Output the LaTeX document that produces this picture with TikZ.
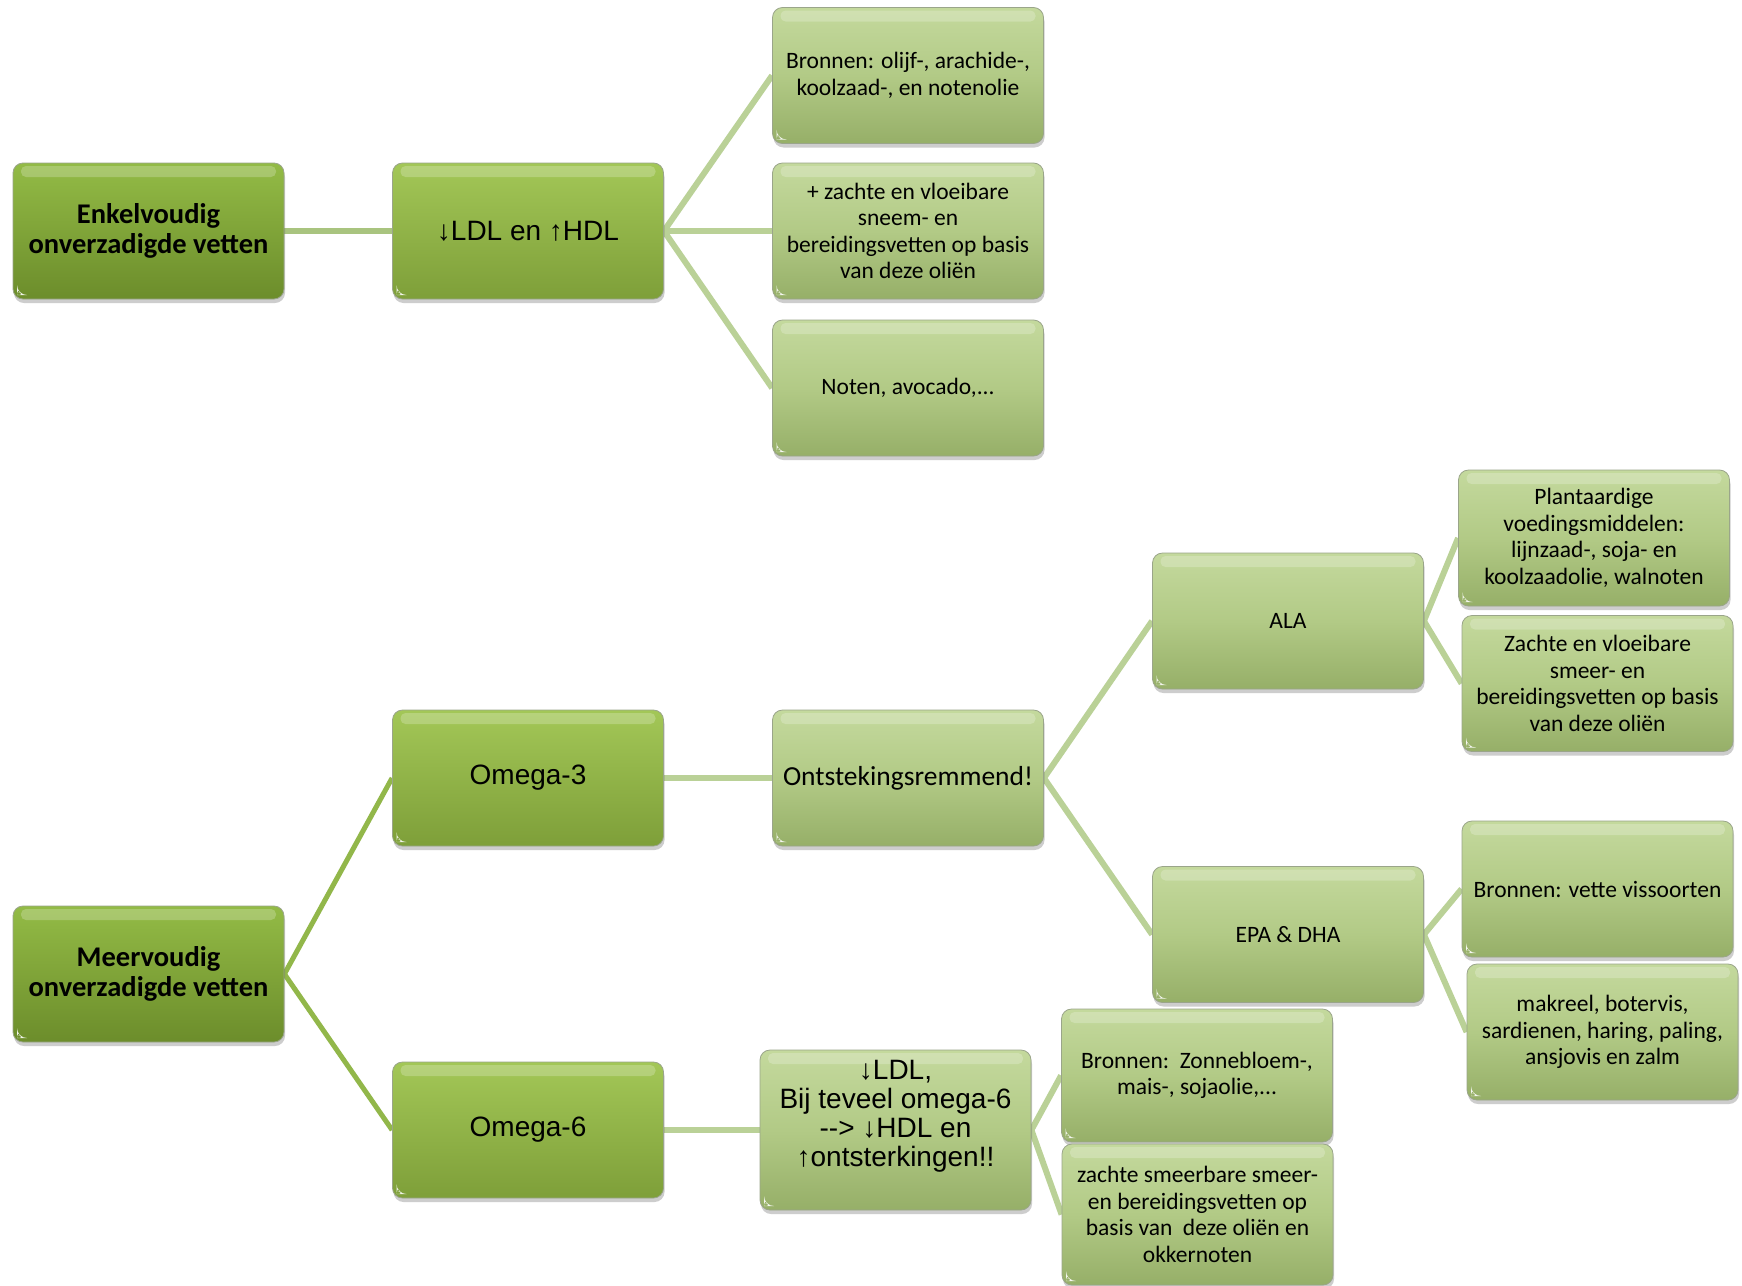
\documentclass[tikz,border=0pt]{standalone}
\usepackage{fontspec}
\setmainfont{Carlito}
\newfontfamily\arialf{Liberation Sans}
\usetikzlibrary{shadows}
\pgfdeclarelayer{background}
\pgfsetlayers{background,main}
\definecolor{dkTop}{HTML}{93BB46}
\definecolor{dkBot}{HTML}{6C8D2B}
\definecolor{mdTop}{HTML}{A3C757}
\definecolor{mdBot}{HTML}{7E9F39}
\definecolor{plTop}{HTML}{C4D99D}
\definecolor{plMid}{HTML}{B2CA86}
\definecolor{plBot}{HTML}{96AF68}
\definecolor{lnPale}{HTML}{BAD197}
\definecolor{lnMid}{HTML}{A9C47F}
\definecolor{lnBright}{HTML}{92B74A}
\definecolor{bordr}{HTML}{9AA58A}
\tikzset{
  gbox/.style={rectangle, rounded corners=10pt, minimum width=271pt, minimum height=136pt,
    inner sep=4pt, align=center, draw=bordr, line width=0.8pt, text=black,
    drop shadow={shadow xshift=1pt, shadow yshift=-4pt, opacity=0.28, fill=black!70},
    path picture={
      \fill[white,opacity=0.22,rounded corners=5pt]
        ([xshift=8pt,yshift=-3pt]path picture bounding box.north west) rectangle
        ([xshift=-8pt,yshift=-14pt]path picture bounding box.north east);
      \fill[white,opacity=0.9]
        ([xshift=4pt,yshift=4pt]path picture bounding box.south west) --
        ([xshift=14pt,yshift=4pt]path picture bounding box.south west) .. controls
        ([xshift=8pt,yshift=6pt]path picture bounding box.south west) ..
        ([xshift=4pt,yshift=14pt]path picture bounding box.south west) -- cycle;
    }},
  darkbox/.style={gbox, top color=dkTop, bottom color=dkBot,
    font=\fontsize{28.5}{30.5}\selectfont\bfseries},
  midbox/.style={gbox, top color=mdTop, bottom color=mdBot,
    font=\arialf\fontsize{28}{30}\selectfont},
  palebox/.style={gbox, top color=plTop, bottom color=plBot, middle color=plMid,
    font=\fontsize{23.5}{26.5}\selectfont},
  conP/.style={line width=6pt, draw=lnPale},
  conM/.style={line width=6.5pt, draw=lnMid},
  conB/.style={line width=5pt, draw=lnBright}
}
\begin{document}
\begin{tikzpicture}[x=1pt,y=-1pt]
\useasboundingbox (0,0) rectangle (1742,1285);

\node[darkbox] (enk) at (148.5,231) {Enkelvoudig\\onverzadigde vetten};
\node[darkbox] (meer) at (148.5,974) {Meervoudig\\onverzadigde vetten};

\node[midbox] (ldlhdl) at (528,231) {↓LDL en ↑HDL};
\node[midbox] (om3) at (528,778) {Omega-3};
\node[midbox] (om6) at (528,1130) {Omega-6};

\node[palebox] (olijf) at (908,75.5) {Bronnen: olijf-, arachide-,\\koolzaad-, en notenolie};
\node[palebox] (zachteA) at (908,231) {+ zachte en vloeibare\\sneem- en\\bereidingsvetten op basis\\van deze oliën};
\node[palebox] (noten) at (908,388) {Noten, avocado,...};

\node[palebox, font=\fontsize{27.5}{30}\selectfont] (ontst) at (908,778) {Ontstekingsremmend!};
\node[palebox, minimum height=160pt, font=\arialf\fontsize{28}{29}\selectfont] (ldlsix) at (895.5,1130)
  {\raisebox{13pt}[\height][\depth]{\begin{tabular}{@{}c@{}}↓LDL,\\Bij teveel omega-6\\-{}-> ↓HDL en\\↑ontsterkingen!!\end{tabular}}};

\node[palebox] (ala) at (1288,621) {ALA};
\node[palebox] (epa) at (1288,934.5) {EPA \& DHA};

\node[palebox, minimum height=133pt] (zonne) at (1197,1075.5) {Bronnen:\ \ Zonnebloem-,\\mais-, sojaolie,...};
\node[palebox, minimum height=141pt] (zachteC) at (1197.5,1214.5) {zachte smeerbare smeer-\\en bereidingsvetten op\\basis van\ \ deze oliën en\\okkernoten};

\node[palebox] (plant) at (1594,538) {Plantaardige\\voedingsmiddelen:\\lijnzaad-, soja- en\\koolzaadolie, walnoten};
\node[palebox] (zachteB) at (1597.5,683.5) {Zachte en vloeibare\\smeer- en\\bereidingsvetten op basis\\van deze oliën};
\node[palebox] (vette) at (1597.5,889) {Bronnen: vette vissoorten};
\node[palebox] (makreel) at (1602.5,1032) {makreel, botervis,\\sardienen, haring, paling,\\ansjovis en zalm};

\begin{pgfonlayer}{background}
\fill[white] (0,0) rectangle (1742,1285);
\draw[conM] (enk.east) -- (ldlhdl.west);
\draw[conP] (ldlhdl.east) -- (olijf.west);
\draw[conP] (ldlhdl.east) -- (zachteA.west);
\draw[conP] (ldlhdl.east) -- (noten.west);
\draw[conB] (meer.east) -- (om3.west);
\draw[conB] (meer.east) -- (om6.west);
\draw[conP] (om3.east) -- (ontst.west);
\draw[conP] (om6.east) -- (ldlsix.west);
\draw[conP] (ontst.east) -- (ala.west);
\draw[conP] (ontst.east) -- (epa.west);
\draw[conP] (ala.east) -- (plant.west);
\draw[conP] (ala.east) -- (zachteB.west);
\draw[conP] (epa.east) -- (vette.west);
\draw[conP] (epa.east) -- (makreel.west);
\draw[conP] (ldlsix.east) -- (zonne.west);
\draw[conP] (ldlsix.east) -- (zachteC.west);
\end{pgfonlayer}
\end{tikzpicture}
\end{document}
